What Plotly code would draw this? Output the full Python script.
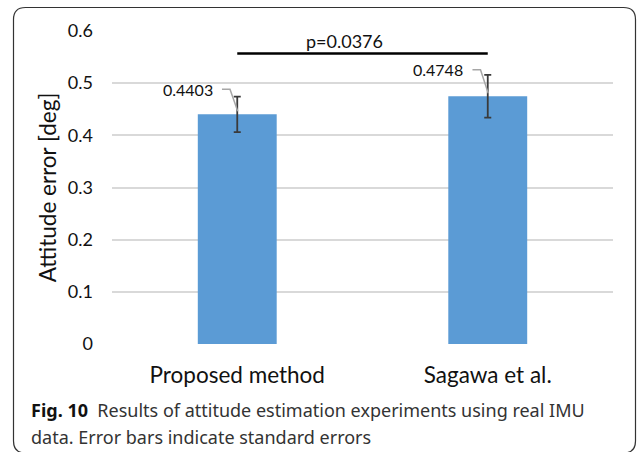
import plotly.graph_objects as go

categories = ["Proposed method", "Sagawa et al."]
values = [0.4403, 0.4748]
std_errors = [0.034, 0.041]
value_labels = ["0.4403", "0.4748"]
p_text = "p=0.0376"
y_ticks = [0, 0.1, 0.2, 0.3, 0.4, 0.5, 0.6]
y_tick_text = ["0", "0.1", "0.2", "0.3", "0.4", "0.5", "0.6"]
caption_bold = "Fig. 10"
caption_line1 = "Results of attitude estimation experiments using real IMU"
caption_line2 = "data. Error bars indicate standard errors"

W, H = 637, 452
ML, MR, MT, MB = 112, 24, 31, 108
PW, PH = W - ML - MR, H - MT - MB

def px(x):
    return (x - ML) / PW

def py(y):
    return (H - MB - y) / PH

FONT = "Lato"

fig = go.Figure()
fig.add_trace(go.Bar(
    x=[0, 1], y=values,
    marker=dict(color="#5b9bd5", line=dict(width=0)),
    error_y=dict(type="data", array=std_errors, visible=True,
                 color="#3a3a3a", thickness=1.8, width=3.5),
    width=0.315,
    showlegend=False,
))

# leader lines and value labels
label_dy = [0.048, 0.051]
for i, (v, lab) in enumerate(zip(values, value_labels)):
    ly = v + label_dy[i]
    fig.add_trace(go.Scatter(
        x=[i - 0.061, i - 0.029, i + 0.002], y=[ly, ly, v + 0.006],
        mode="lines", line=dict(color="#a6a6a6", width=1.5),
        showlegend=False, hoverinfo="skip"))
    fig.add_annotation(x=i - 0.09, y=ly, text=lab, showarrow=False,
                       xanchor="right", yanchor="middle",
                       font=dict(family=FONT, size=16, color="#111"))

# significance bar
sig_y = 0.557
fig.add_trace(go.Scatter(x=[0, 1], y=[sig_y, sig_y], mode="lines",
                         line=dict(color="black", width=2.5),
                         showlegend=False, hoverinfo="skip"))
fig.add_annotation(x=0.427, y=0.58, text=p_text, showarrow=False,
                   xanchor="center", yanchor="middle",
                   font=dict(family=FONT, size=18, color="#111"))

# caption
fig.add_annotation(xref="paper", yref="paper", x=px(29), y=py(410),
                   text=f"<b>{caption_bold}</b>  <span style='color:#333'>{caption_line1}</span>",
                   showarrow=False, xanchor="left", yanchor="middle",
                   font=dict(family="Noto Sans", size=18, color="#111"))
fig.add_annotation(xref="paper", yref="paper", x=px(29), y=py(437),
                   text=caption_line2,
                   showarrow=False, xanchor="left", yanchor="middle",
                   font=dict(family="Noto Sans", size=18, color="#333"))

# rounded border
x0, y0, x1, y1, r = 13.5, 7.5, 635.5, 453, 12
path = (f"M {px(x0)},{py(y0 + r)} L {px(x0)},{py(y1 - r)} "
        f"Q {px(x0)},{py(y1)} {px(x0 + r)},{py(y1)} "
        f"L {px(x1 - r)},{py(y1)} Q {px(x1)},{py(y1)} {px(x1)},{py(y1 - r)} "
        f"L {px(x1)},{py(y0 + r)} Q {px(x1)},{py(y0)} {px(x1 - r)},{py(y0)} "
        f"L {px(x0 + r)},{py(y0)} Q {px(x0)},{py(y0)} {px(x0)},{py(y0 + r)} Z")
fig.add_shape(type="path", path=path, xref="paper", yref="paper",
              line=dict(color="#333", width=1.2), layer="above")

fig.update_layout(
    width=W, height=H,
    margin=dict(l=ML, r=MR, t=MT, b=MB),
    paper_bgcolor="white", plot_bgcolor="white",
    font=dict(family=FONT, color="#111"),
    xaxis=dict(range=[-0.5, 1.5], tickvals=[0, 1], ticktext=categories,
               showgrid=False, zeroline=False, showline=False,
               tickfont=dict(family=FONT, size=22.5, color="#111"),
               ticks="", ticklabelstandoff=15),
    yaxis=dict(range=[0, 0.6], tickvals=y_ticks, ticktext=y_tick_text,
               showgrid=True, gridcolor="#d9d9d9", gridwidth=1.5,
               zeroline=False, showline=False, ticks="",
               tickfont=dict(family=FONT, size=18, color="#111"),
               ticklabelstandoff=18,
               title=dict(text="Attitude error [deg]",
                          font=dict(family=FONT, size=22.5, color="#111"),
                          standoff=4)),
)

fig.write_html("out.html")
